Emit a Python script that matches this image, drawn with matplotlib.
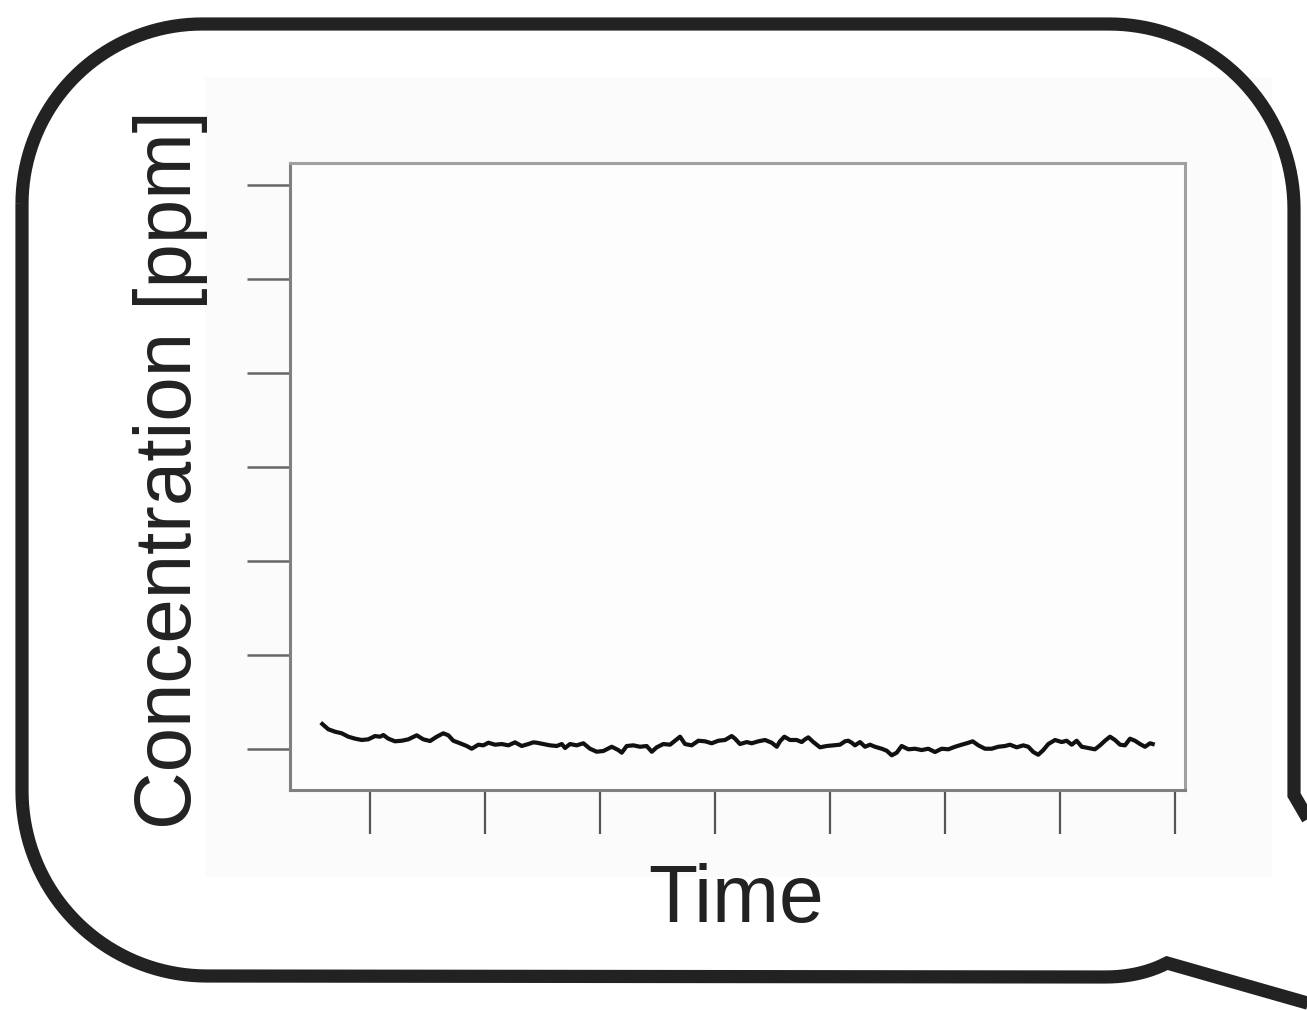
import numpy as np
import matplotlib
matplotlib.use("Agg")
import matplotlib.pyplot as plt
from matplotlib.path import Path
from matplotlib.patches import PathPatch, Rectangle

plt.rcParams['font.family'] = ['Liberation Sans', 'DejaVu Sans']

# ---- data (time in arbitrary units, ticks every 10; concentration in arbitrary units, ticks every 10)
time = [-4.15, -3.63, -3.04, -2.46, -1.89, -1.30, -0.72, -0.15, 0.43, 0.87, 1.16, 1.59, 2.17, 2.76,
        3.33, 4.06, 4.63, 5.22, 5.80, 6.37, 6.81, 7.24, 7.83, 8.41, 8.84, 9.42, 9.85, 10.29, 10.87,
        11.45, 12.03, 12.61, 13.19, 13.77, 14.20, 14.50, 15.07, 15.65, 16.23, 16.67, 16.96, 17.39,
        17.97, 18.55, 19.13, 19.71, 20.29, 21.02, 21.59, 21.89, 22.32, 22.90, 23.48, 24.06, 24.50,
        24.93, 25.50, 26.09, 26.67, 26.96, 27.39, 27.97, 28.55, 29.13, 29.71, 30.29, 30.87, 31.45,
        31.74, 32.17, 32.76, 33.19, 33.77, 34.35, 34.93, 35.37, 35.65, 36.03, 36.52, 37.10, 37.54,
        37.83, 38.11, 38.55, 39.13, 39.71, 40.29, 40.87, 41.30, 41.59, 41.89, 42.17, 42.61, 43.04,
        43.48, 43.91, 44.50, 44.93, 45.37, 45.80, 46.23, 46.81, 47.39, 47.97, 48.55, 49.13, 49.71,
        50.29, 50.87, 51.45, 51.89, 52.41, 52.90, 53.48, 54.06, 54.63, 55.22, 55.65, 56.23, 56.81,
        57.24, 57.68, 58.11, 58.55, 58.98, 59.57, 60.15, 60.58, 61.02, 61.45, 61.89, 62.46, 63.04,
        63.48, 63.91, 64.35, 64.78, 65.22, 65.65, 66.09, 66.52, 66.96, 67.39, 67.83, 68.06]
concentration = [2.66, 2.10, 1.84, 1.67, 1.31, 1.10, 0.96, 1.03, 1.38, 1.31, 1.49, 1.10, 0.82, 0.88,
                 1.03, 1.46, 1.03, 0.85, 1.31, 1.67, 1.46, 0.88, 0.61, 0.32, 0.03, 0.46, 0.39, 0.67,
                 0.46, 0.53, 0.39, 0.71, 0.32, 0.53, 0.71, 0.67, 0.53, 0.39, 0.32, 0.53, 0.11, 0.53,
                 0.39, 0.61, 0.03, -0.29, -0.21, 0.24, -0.11, -0.39, 0.32, 0.39, 0.24, 0.32, -0.29,
                 0.18, 0.53, 0.46, 1.03, 1.31, 0.53, 0.39, 0.88, 0.82, 0.61, 0.88, 0.96, 1.38, 1.10,
                 0.53, 0.74, 0.61, 0.82, 0.96, 0.67, 0.24, 0.82, 1.31, 0.96, 0.96, 0.74, 1.03, 1.24,
                 0.74, 0.18, 0.32, 0.39, 0.46, 0.82, 0.88, 0.67, 0.39, 0.74, 0.24, 0.46, 0.24, 0.03,
                 -0.18, -0.67, -0.39, 0.32, -0.03, 0.03, -0.11, 0.03, -0.32, 0.03, -0.03, 0.24, 0.46,
                 0.61, 0.82, 0.39, 0.03, 0.03, 0.24, 0.32, 0.46, 0.18, 0.39, 0.24, -0.32, -0.61, -0.11,
                 0.53, 0.96, 0.74, 0.88, 0.46, 0.88, 0.24, 0.11, -0.03, 0.39, 0.88, 1.31, 0.96, 0.46,
                 0.39, 1.10, 0.88, 0.53, 0.24, 0.61, 0.53]
x_ticks = [0, 10, 20, 30, 40, 50, 60, 70]
y_ticks = [0, 10, 20, 30, 40, 50, 60]
x_label = "Time"
y_label = "Concentration [ppm]"

W, H = 1307, 1010
fig = plt.figure(figsize=(W / 100, H / 100), dpi=100)
fig.patch.set_facecolor('white')

def fx(px):
    return px / W

def fy(py):
    return 1 - py / H

# light panel behind the chart
bg = fig.add_axes([0, 0, 1, 1], zorder=0)
bg.set_xlim(0, W)
bg.set_ylim(H, 0)
bg.axis('off')
bg.add_patch(Rectangle((205, 77), 1272 - 205, 877 - 77, facecolor='#fbfbfb', edgecolor='none'))

# main chart axes
ax = fig.add_axes([fx(290), fy(790), fx(1185) - fx(290), fy(163) - fy(790)], zorder=1)
ax.set_facecolor('#fdfdfd')
ax.plot(time, concentration, color='#111111', lw=3.0, solid_joinstyle='round')
ax.set_xlim(-6.96, 70.87)
ax.set_ylim(-4.36, 62.34)
ax.set_xticks(x_ticks)
ax.set_yticks(y_ticks)
ax.set_xticklabels([])
ax.set_yticklabels([])
ax.tick_params(axis='x', direction='out', length=32, width=1.6, color='#555555')
ax.tick_params(axis='y', direction='out', length=31, width=1.8, color='#666666')
for side in ['left', 'bottom']:
    ax.spines[side].set_color('#808080')
    ax.spines[side].set_linewidth(2.2)
for side in ['top', 'right']:
    ax.spines[side].set_color('#a0a0a0')
    ax.spines[side].set_linewidth(2.2)

# axis titles as figure text
ov = fig.add_axes([0, 0, 1, 1], zorder=2)
ov.set_xlim(0, W)
ov.set_ylim(H, 0)
ov.axis('off')
ov.patch.set_alpha(0)
ov.text(191, 470, y_label, rotation=90, rotation_mode='anchor', ha='center', va='baseline',
        fontsize=57.5, color='#222222')
ov.text(736, 922, x_label, ha='center', va='baseline', fontsize=58, color='#222222')

# speech bubble outline
def arc(cx, cy, r, a0, a1, n=40):
    t = np.radians(np.linspace(a0, a1, n))
    return list(zip(cx + r * np.cos(t), cy + r * np.sin(t)))

L, T, R, B = 22, 24, 1294, 976
pts = []
pts += arc(L + 180, T + 180, 180, 180, 270)          # top-left
pts += arc(R - 185, T + 185, 185, 270, 360)          # top-right
pts += [(R, 795), (1437, 1040), (1167, 963)]
# small curve into bottom edge
for s in np.linspace(0, 1, 12):
    p0, p1, p2 = np.array([1167, 963]), np.array([1140, 977]), np.array([1105, 977])
    q = (1 - s) ** 2 * p0 + 2 * (1 - s) * s * p1 + s ** 2 * p2
    pts.append(tuple(q))
pts += arc(L + 185, B - 185, 185, 90, 180)           # bottom-left
pts.append(pts[0])
codes = [Path.MOVETO] + [Path.LINETO] * (len(pts) - 2) + [Path.CLOSEPOLY]
ov.add_patch(PathPatch(Path(pts, codes), facecolor='none', edgecolor='#222222', lw=9.5,
                       joinstyle='miter', clip_on=False))

fig.savefig('out.png', dpi=100, facecolor='white')
